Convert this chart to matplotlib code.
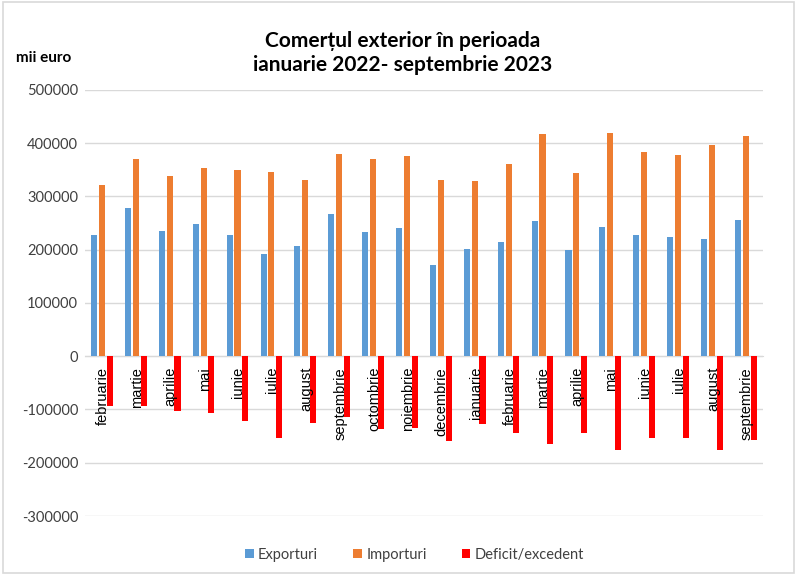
import numpy as np
import matplotlib.pyplot as plt
from matplotlib.patches import Rectangle

luni = ["februarie", "martie", "aprilie", "mai", "iunie", "iulie", "august",
        "septembrie", "octombrie", "noiembrie", "decembrie", "ianuarie",
        "februarie", "martie", "aprilie", "mai", "iunie", "iulie", "august",
        "septembrie"]

exporturi = [228000, 278000, 235000, 249000, 227000, 192000, 207000, 267000,
             234000, 241000, 172000, 202000, 214000, 254000, 199000, 242000,
             227000, 224000, 220000, 255000]

importuri = [321000, 370000, 338000, 354000, 350000, 345000, 331000, 380000,
             370000, 376000, 331000, 329000, 360000, 417000, 344000, 419000,
             383000, 378000, 396000, 413000]

deficit = [-94000, -94000, -103000, -106000, -122000, -154000, -125000, -115000,
           -137000, -135000, -160000, -127000, -145000, -165000, -145000, -177000,
           -154000, -154000, -177000, -158000]

plt.rcParams['font.family'] = ['Lato', 'DejaVu Sans']

fig = plt.figure(figsize=(7.97, 5.75), dpi=100)
ax = fig.add_axes([0.1066, 0.1026, 0.8504, 0.741])

x = np.arange(len(luni))
w = 0.18
ax.bar(x - 0.23, exporturi, w, color='#5B9BD5', label='Exporturi', zorder=3)
ax.bar(x, importuri, w, color='#ED7D31', label='Importuri', zorder=3)
ax.bar(x + 0.23, deficit, w, color='#FF0000', label='Deficit/excedent', zorder=3)

ax.set_xlim(-0.5, len(luni) - 0.5)
ax.set_ylim(-300000, 500000)
ax.set_yticks(range(-300000, 500001, 100000))
ax.set_yticklabels([str(v) for v in range(-300000, 500001, 100000)],
                   fontsize=10.5, color='#404040')
ax.grid(axis='y', color='#d9d9d9', linewidth=1, zorder=0)

for s in ['top', 'right', 'left']:
    ax.spines[s].set_visible(False)
ax.spines['bottom'].set_position(('data', 0))
ax.spines['bottom'].set_color('#d9d9d9')
ax.spines['bottom'].set_zorder(2)
ax.tick_params(axis='both', length=0)
ax.tick_params(axis='y', pad=5)

ax.set_xticks(x)
ax.set_xticklabels([])
for i, luna in enumerate(luni):
    ax.text(i + 0.03, -20000, luna, rotation=90, ha='center', va='top',
            fontsize=10.5, family='Liberation Sans', color='black', zorder=4)

fig.text(0.505, 0.907, "Comerțul exterior în perioada\nianuarie 2022- septembrie 2023",
         ha='center', va='center', fontsize=15, fontweight='bold',
         linespacing=1.25)
fig.text(0.055, 0.900, "mii euro", ha='center', va='center', fontsize=11,
         fontweight='bold')

leg = fig.legend(loc='center', bbox_to_anchor=(0.52, 0.035), ncol=3,
                 frameon=False, fontsize=10.5, handlelength=0.6,
                 handleheight=0.6, handletextpad=0.3, columnspacing=2.4)
for t in leg.get_texts():
    t.set_color('#404040')

fig.patches.append(Rectangle((0.004, 0.004), 0.992, 0.992,
                             transform=fig.transFigure, fill=False,
                             edgecolor='#d9d9d9', linewidth=1.2))

plt.savefig("out.png", dpi=100)
